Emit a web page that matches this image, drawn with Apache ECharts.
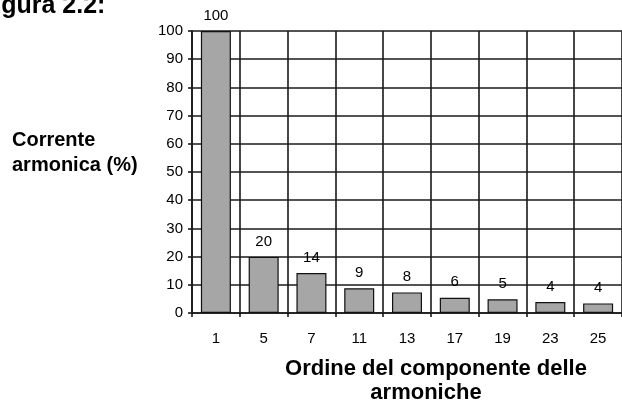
<!DOCTYPE html>
<html>
<head>
<meta charset="utf-8">
<script src="https://cdn.jsdelivr.net/npm/echarts@6/dist/echarts.min.js"></script>
<style>html,body{margin:0;padding:0;background:#fff;}#c{width:622px;height:406px;}</style>
</head>
<body>
<div id="c"></div>
<script>
const categories = ['1', '5', '7', '11', '13', '17', '19', '23', '25'];
const barValues = [100, 19.9, 14.2, 8.8, 7.3, 5.4, 4.9, 3.9, 3.4];
const barLabels = ['100', '20', '14', '9', '8', '6', '5', '4', '4'];
const yTicks = { min: 0, max: 100, interval: 10 };

const chart = echarts.init(document.getElementById('c'), null, { renderer: 'canvas' });
const FONT = '"Liberation Sans", Arial, Helvetica, sans-serif';
const LINE = { color: '#1a1a1a', width: 1.6 };
chart.setOption({
  animation: false,
  backgroundColor: '#fff',
  grid: { left: 192, right: -5, top: 31, bottom: 93, containLabel: false },
  xAxis: {
    type: 'category',
    data: categories,
    boundaryGap: true,
    axisLine: { show: true, lineStyle: LINE },
    axisTick: { show: true, alignWithLabel: false, inside: false, length: 4, lineStyle: LINE },
    splitLine: { show: true, interval: 0, lineStyle: LINE },
    axisLabel: { color: '#000', fontSize: 15, fontFamily: FONT, margin: 18, interval: 0 }
  },
  yAxis: {
    type: 'value',
    min: yTicks.min, max: yTicks.max, interval: yTicks.interval,
    axisLine: { show: true, lineStyle: LINE },
    axisTick: { show: true, length: 4, lineStyle: LINE },
    splitLine: { show: true, lineStyle: LINE },
    axisLabel: { color: '#000', fontSize: 15, fontFamily: FONT, margin: 9 }
  },
  series: [{
    type: 'bar',
    data: barValues,
    barWidth: 30,
    itemStyle: { color: '#a6a6a6', borderColor: '#111', borderWidth: 1.2 },
    label: {
      show: true, position: 'top', distance: 8,
      color: '#000', fontSize: 15, fontFamily: FONT,
      formatter: p => barLabels[p.dataIndex]
    }
  }],
  graphic: [
    { type: 'text', left: -21, top: -6, style: { text: 'Figura 2.2:', font: 'bold 25px ' + FONT, fill: '#000' } },
    { type: 'text', left: 12, top: 128, style: { text: 'Corrente\narmonica (%)', font: 'bold 20px ' + FONT, lineHeight: 25, fill: '#000' } },
    { type: 'text', x: 436, y: 369, style: { text: 'Ordine del componente delle', font: 'bold 22px ' + FONT, fill: '#000', align: 'center', verticalAlign: 'middle' } },
    { type: 'text', x: 426, y: 393, style: { text: 'armoniche', font: 'bold 22px ' + FONT, fill: '#000', align: 'center', verticalAlign: 'middle' } }
  ]
});
</script>
</body>
</html>
